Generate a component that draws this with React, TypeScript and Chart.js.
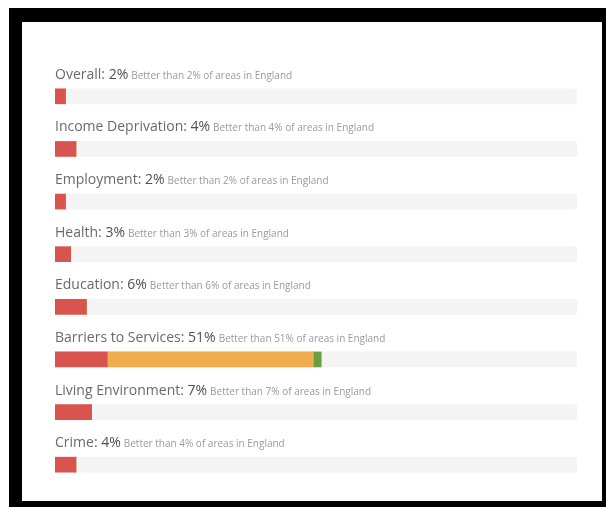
import React, { useEffect, useRef } from "react";
import { Chart, registerables } from "chart.js";

Chart.register(...registerables);

const categories = [
  "Overall",
  "Income Deprivation",
  "Employment",
  "Health",
  "Education",
  "Barriers to Services",
  "Living Environment",
  "Crime",
];
const percents = [2, 4, 2, 3, 6, 51, 7, 4];
const redValues = [2, 4, 2, 3, 6, 10, 7, 4];
const amberValues = [0, 0, 0, 0, 0, 39.5, 0, 0];
const greenValues = [0, 0, 0, 0, 0, 1.5, 0, 0];
const scaleMax = 100;

const FONT = '"Open Sans", "Liberation Sans", Arial, sans-serif';

const labelPlugin = {
  id: "rowLabels",
  afterDatasetsDraw(chart: any) {
    const ctx = chart.ctx;
    const meta = chart.getDatasetMeta(1);
    const x0 = chart.scales.x.getPixelForValue(0);
    meta.data.forEach((bar: any, i: number) => {
      const p = bar.getProps(["y", "height"], true);
      const baseline = p.y - p.height / 2 - 10;
      ctx.save();
      ctx.textBaseline = "alphabetic";
      ctx.textAlign = "left";
      ctx.font = `14px ${FONT}`;
      ctx.fillStyle = "#6a6a6a";
      const t1 = categories[i] + ": ";
      ctx.fillText(t1, x0, baseline);
      let x = x0 + ctx.measureText(t1).width;
      ctx.fillStyle = "#505050";
      const t2 = percents[i] + "%";
      ctx.fillText(t2, x, baseline);
      x += ctx.measureText(t2).width + 3;
      ctx.font = `10px ${FONT}`;
      ctx.fillStyle = "#9a9a9a";
      ctx.fillText(`Better than ${percents[i]}% of areas in England`, x, baseline);
      ctx.restore();
    });
  },
};

export default function App() {
  const ref = useRef<HTMLCanvasElement | null>(null);

  useEffect(() => {
    if (!ref.current) return;
    const chart = new Chart(ref.current, {
      type: "bar",
      data: {
        labels: categories,
        datasets: [
          {
            label: "track",
            data: categories.map(() => scaleMax),
            backgroundColor: "#f4f4f4",
            stack: "track",
            grouped: false,
            order: 5,
            borderRadius: 3,
            borderSkipped: false,
          } as any,
          {
            label: "red",
            data: redValues,
            backgroundColor: "#d9534f",
            stack: "value",
            grouped: false,
            order: 0,
          } as any,
          {
            label: "amber",
            data: amberValues,
            backgroundColor: "#f0ad4e",
            stack: "value",
            grouped: false,
            order: 0,
          } as any,
          {
            label: "green",
            data: greenValues,
            backgroundColor: "#6a9e3f",
            stack: "value",
            grouped: false,
            order: 0,
          } as any,
        ],
      },
      options: {
        indexAxis: "y",
        responsive: false,
        animation: false,
        devicePixelRatio: 1,
        barThickness: 15,
        layout: { padding: { left: 55, right: 29, top: 70, bottom: 16 } },
        plugins: { legend: { display: false }, tooltip: { enabled: false } },
        scales: {
          x: { display: false, stacked: true, min: 0, max: scaleMax },
          y: { display: false, stacked: true },
        },
      } as any,
      plugins: [labelPlugin],
    });
    if ((document as any).fonts) {
      (document as any).fonts.load(`14px "Open Sans"`).then(() => chart.draw());
    }
    return () => chart.destroy();
  }, []);

  return (
    <div
      style={{
        position: "absolute",
        left: 0,
        top: 0,
        width: 606,
        height: 507,
        background: "#ffffff",
        overflow: "hidden",
      }}
    >
      <div
        style={{
          position: "absolute",
          left: 9,
          top: 8,
          width: 597,
          height: 499,
          background: "#000",
        }}
      />
      <div
        style={{
          position: "absolute",
          left: 22,
          top: 22,
          width: 580,
          height: 479,
          background: "#fff",
        }}
      />
      <canvas
        ref={ref}
        width={606}
        height={507}
        style={{ position: "absolute", left: 0, top: 0, width: 606, height: 507 }}
      />
    </div>
  );
}
